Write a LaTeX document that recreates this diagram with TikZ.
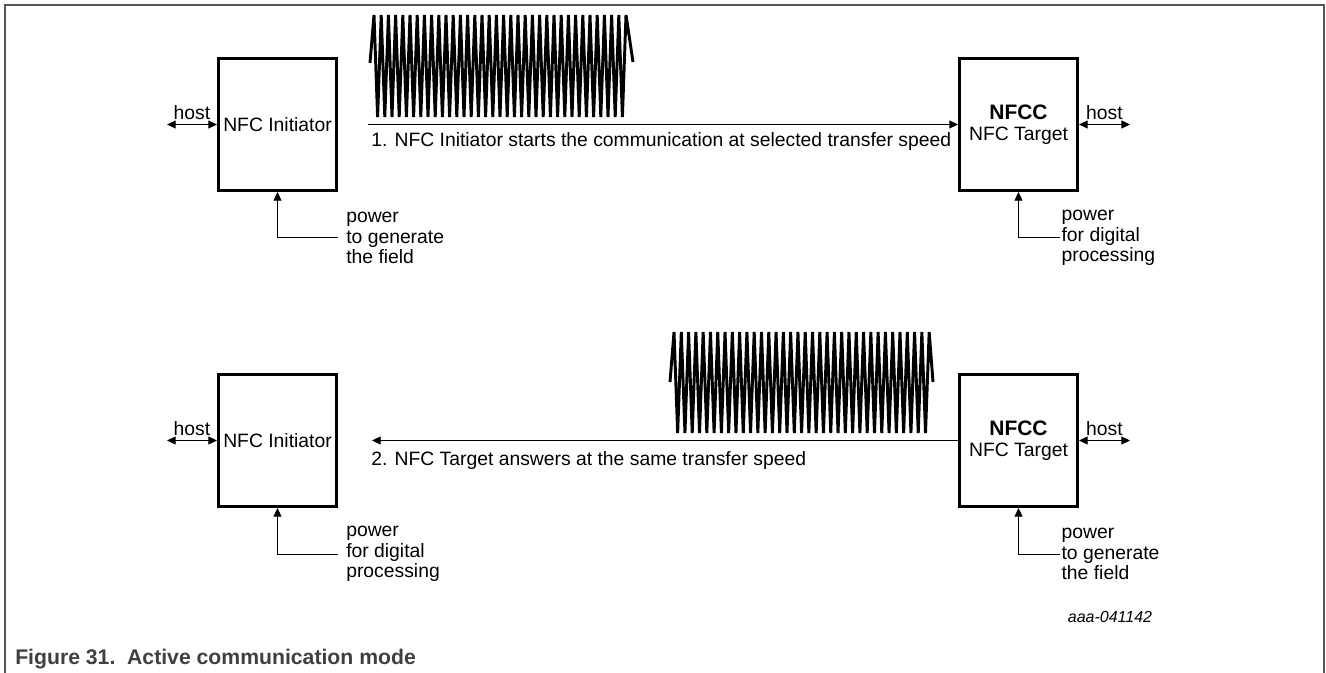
\documentclass[tikz,border=0pt]{standalone}
\usepackage{fontspec}
\setmainfont{Liberation Sans}
\usetikzlibrary{arrows.meta,positioning}

\definecolor{framegray}{HTML}{555555}
\definecolor{capgray}{HTML}{404040}

\tikzset{
  unit/.style={draw, line width=2pt, minimum width=88.75pt, minimum height=99.25pt, inner sep=0pt, align=center},
  link/.style={line width=0.75pt},
  wave/.style={line width=2.2pt},
  pwrtext/.style={anchor=west, align=left, inner ysep=0pt, inner xsep=#1},
  pwrtext/.default=1pt,
  msg/.style={anchor=base west, inner sep=0pt}
}
\newcommand{\nfcc}{{\fontsize{15.7}{15}\selectfont\bfseries NFCC}}

\begin{document}
\begin{tikzpicture}[x=0.75pt, y=-0.75pt, font=\fontsize{14.5}{15.4}\selectfont, >={Triangle[length=6.5pt,width=6pt]}]
  % page size and frame
  \useasboundingbox (0,0) rectangle (1326,673);
  \draw[framegray, line width=1.2pt] (5,673) -- (5,5) -- (1324,5) -- (1324,673);

  % row 1: the initiator generates the field
  \node[unit] (ini1) at (277.5,124.5) {NFC Initiator};
  \node[unit] (tgt1) at (1018.5,124.5) {\nfcc\\NFC Target};

  \coordinate (hostL1) at (167,124.5);
  \coordinate (hostR1) at (1130,124.5);
  \draw[link,<->] (hostL1) -- (ini1.west) node[midway,above] {host};
  \draw[link,<->] (tgt1.east) -- (hostR1) node[midway,above] {host};

  \node[pwrtext=6pt] (pwr1) at (338,238) {power\\to generate\\the field};
  \node[pwrtext] (pwr2) at (1060,238) {power\\for digital\\processing};
  \draw[link,->] (pwr1.west) -| (ini1.south);
  \draw[link,->] (pwr2.west) -| (tgt1.south);

  \coordinate (tx1) at (368,124.5);
  \draw[link,->] (tx1) -- (tgt1.west);
  \node[msg] (msg1) at (371,147) {1. NFC Initiator starts the communication at selected transfer speed};

  % carrier sent by the initiator
  \draw[wave] (370,63) -- (374,15)
    \foreach \k in {1,...,35} { -- ({374+(\k-0.5)*7.2},117) -- ({374+\k*7.2},15) }
    -- (633,62);

  % row 2: the target answers with its own field
  \node[unit] (ini2) at (277.5,440.5) {NFC Initiator};
  \node[unit] (tgt2) at (1018.5,440.5) {\nfcc\\NFC Target};

  \coordinate (hostL2) at (167,440.5);
  \coordinate (hostR2) at (1130,440.5);
  \draw[link,<->] (hostL2) -- (ini2.west) node[midway,above] {host};
  \draw[link,<->] (tgt2.east) -- (hostR2) node[midway,above] {host};

  \node[pwrtext=6pt] (pwr3) at (338,554) {power\\for digital\\processing};
  \node[pwrtext] (pwr4) at (1060,554) {power\\to generate\\the field};
  \draw[link,->] (pwr3.west) -| (ini2.south);
  \draw[link,->] (pwr4.west) -| (tgt2.south);

  \coordinate (rx2) at (372,440.5);
  \draw[link,->] (tgt2.west) -- (rx2);
  \node[msg] (msg2) at (371,465) {2. NFC Target answers at the same transfer speed};

  % carrier sent by the target
  \draw[wave] (670,382) -- (674,332)
    \foreach \k in {1,...,35} { -- ({674+(\k-0.5)*7.29},433) -- ({674+\k*7.29},332) }
    -- (933,382);

  % figure id and caption
  \node[font=\fontsize{12}{14}\selectfont\itshape] (docid) at (1110,617) {aaa-041142};
  \node[msg, text=capgray, font=\fontsize{15.9}{18}\selectfont\bfseries] (caption) at (15,664) {Figure 31.\ \ Active communication mode};
\end{tikzpicture}
\end{document}
